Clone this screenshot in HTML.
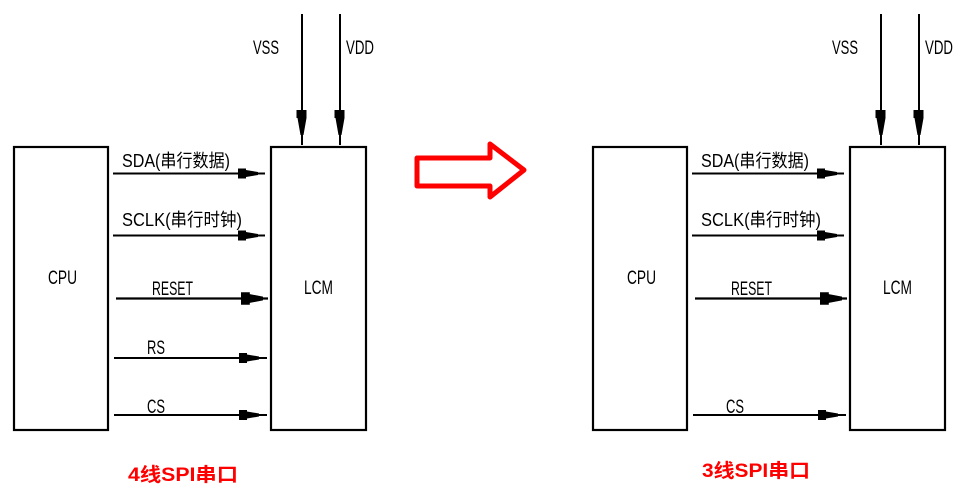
<!DOCTYPE html>
<html>
<head>
<meta charset="utf-8">
<style>
  html, body { margin:0; padding:0; background:#fff; }
  body { width:969px; height:486px; overflow:hidden; }
  svg { display:block; }
  .lbl { font-family:"Liberation Sans","Noto Sans CJK SC",sans-serif; font-size:19px; fill:#000; }
  .cj { font-family:"Liberation Sans","Noto Sans CJK SC",sans-serif; font-size:18px; fill:#000; }
  .red { font-family:"Liberation Sans","Noto Sans CJK SC",sans-serif; font-size:19px; font-weight:bold; fill:#ff0000; }
</style>
</head>
<body>
<svg width="969" height="486" viewBox="0 0 969 486" xmlns="http://www.w3.org/2000/svg">
  <rect x="0" y="0" width="969" height="486" fill="#fff"/>
  <defs>
    <g id="hhead">
      <polygon points="-20,-5 -12,-5 -12,-3.5 0,-1.5 0,1.5 -12,3.5 -12,5 -20,5" fill="#000"/>
    </g>
    <g id="vhead">
      <polygon points="-5.5,-25 4.5,-25 4.5,-17 1.5,0 -1.5,0 -4.5,-17 -5.5,-17" fill="#000"/>
    </g>
    <g id="diagram">
      <rect x="14" y="147" width="94" height="283" fill="none" stroke="#000" stroke-width="2.2"/>
      <rect x="271" y="147" width="95" height="283" fill="none" stroke="#000" stroke-width="2.2"/>
      <line x1="302" y1="14" x2="302" y2="145" stroke="#000" stroke-width="2"/>
      <line x1="340" y1="14" x2="340" y2="145" stroke="#000" stroke-width="2"/>
      <use href="#vhead" x="302" y="135"/>
      <use href="#vhead" x="340" y="135"/>
      <text class="lbl" x="253" y="54" textLength="26" lengthAdjust="spacingAndGlyphs">VSS</text>
      <text class="lbl" x="346" y="54" textLength="28" lengthAdjust="spacingAndGlyphs">VDD</text>
      <text class="lbl" x="48" y="284" textLength="29" lengthAdjust="spacingAndGlyphs">CPU</text>
      <text class="lbl" x="304" y="294" textLength="29" lengthAdjust="spacingAndGlyphs">LCM</text>
      <line x1="113" y1="173.5" x2="265" y2="173.5" stroke="#000" stroke-width="2"/>
      <use href="#hhead" x="258" y="173.5"/>
      <text class="cj" x="122" y="167" textLength="108" lengthAdjust="spacingAndGlyphs">SDA(串行数据)</text>
      <line x1="113" y1="235.5" x2="265" y2="235.5" stroke="#000" stroke-width="2"/>
      <use href="#hhead" x="258" y="235.5"/>
      <text class="cj" x="122" y="226" textLength="120" lengthAdjust="spacingAndGlyphs">SCLK(串行时钟)</text>
      <line x1="116" y1="298.5" x2="268" y2="298.5" stroke="#000" stroke-width="2.2"/>
      <g transform="translate(263,298.5) scale(1.1,1.25)"><use href="#hhead"/></g>
      <text class="lbl" x="152" y="295" textLength="41" lengthAdjust="spacingAndGlyphs">RESET</text>
      <line x1="114" y1="415" x2="267" y2="415" stroke="#000" stroke-width="2"/>
      <use href="#hhead" x="259" y="415"/>
      <text class="lbl" x="147" y="413" textLength="18" lengthAdjust="spacingAndGlyphs">CS</text>
    </g>
  </defs>

  <use href="#diagram"/>
  <line x1="114" y1="358" x2="267" y2="358" stroke="#000" stroke-width="2"/>
  <use href="#hhead" x="259" y="358"/>
  <text class="lbl" x="147" y="354" textLength="18" lengthAdjust="spacingAndGlyphs">RS</text>
  <text class="red" x="128" y="481" textLength="110" lengthAdjust="spacingAndGlyphs">4线SPI串口</text>

  <polygon points="417,158 490,158 490,144 524,170 490,197 490,186 417,186" fill="none" stroke="#ff0000" stroke-width="5" stroke-linejoin="round"/>

  <use href="#diagram" x="579" y="0"/>
  <text class="red" x="702" y="477" textLength="108" lengthAdjust="spacingAndGlyphs">3线SPI串口</text>
</svg>
</body>
</html>
